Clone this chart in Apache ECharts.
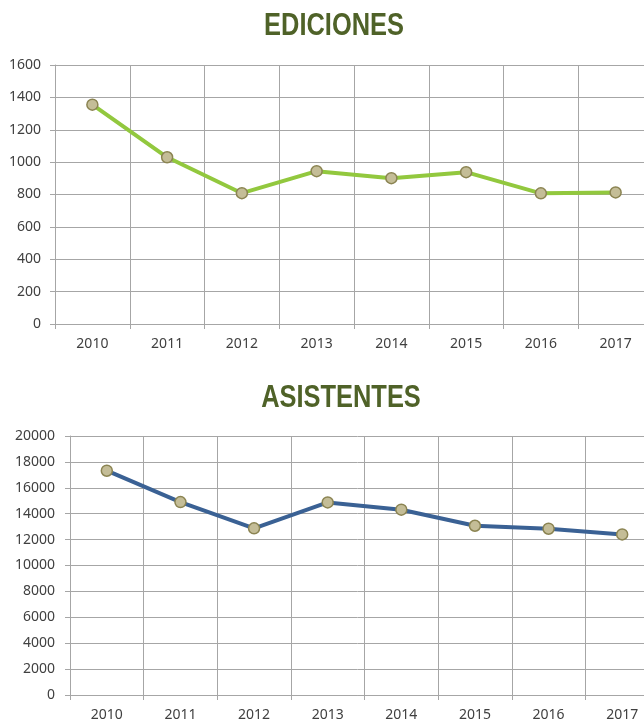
<!DOCTYPE html>
<html>
<head>
<meta charset="utf-8">
<script src="https://cdn.jsdelivr.net/npm/echarts@6/dist/echarts.min.js"></script>
<style>
  html, body { margin: 0; padding: 0; background: #fff; overflow: hidden; }
  #chart { width: 644px; height: 719px; }
</style>
</head>
<body>
<div id="chart"></div>
<script>
// datos
const years = ['2010', '2011', '2012', '2013', '2014', '2015', '2016', '2017'];
const ediciones = [1355, 1030, 808, 944, 901, 938, 807, 813];
const asistentes = [17320, 14900, 12870, 14870, 14310, 13070, 12840, 12400];

const gridColor = '#a6a6a6';
const labelFont = { color: '#404040', fontSize: 14, fontFamily: 'Noto Sans' };
const marker = { color: '#c4bd97', borderColor: '#8b8452', borderWidth: 1.5 };

function xAxisFor(gridIndex) {
  return {
    type: 'category',
    gridIndex: gridIndex,
    data: years,
    boundaryGap: true,
    axisLine: { lineStyle: { color: gridColor } },
    axisTick: { show: true, length: 5, lineStyle: { color: gridColor } },
    splitLine: { show: true, lineStyle: { color: gridColor } },
    axisLabel: Object.assign({ margin: 13 }, labelFont)
  };
}

function yAxisFor(gridIndex, max, step, margin) {
  return {
    type: 'value',
    gridIndex: gridIndex,
    min: 0,
    max: max,
    interval: step,
    axisLine: { show: true, lineStyle: { color: gridColor } },
    axisTick: { show: true, length: 5, lineStyle: { color: gridColor } },
    splitLine: { show: true, lineStyle: { color: gridColor } },
    axisLabel: Object.assign({ margin: margin, formatter: v => String(v) }, labelFont)
  };
}

// títulos en negrita estrecha (Arial Narrow no está, se comprime Liberation Sans)
function titleText(text, cx, cy) {
  return {
    type: 'text',
    x: cx,
    y: cy,
    scaleX: 0.82,
    style: {
      text: text,
      fill: '#4f6228',
      font: 'bold 31px "Liberation Sans", Arial, sans-serif',
      align: 'center',
      verticalAlign: 'middle'
    }
  };
}

const chart = echarts.init(document.getElementById('chart'), null, { renderer: 'canvas' });
chart.setOption({
  animation: false,
  graphic: [
    titleText('EDICIONES', 334, 26),
    titleText('ASISTENTES', 341, 398)
  ],
  grid: [
    { left: 55, top: 65, width: 598, height: 259, outerBoundsMode: 'none' },
    { left: 70, top: 436, width: 589, height: 259, outerBoundsMode: 'none' }
  ],
  xAxis: [xAxisFor(0), xAxisFor(1)],
  yAxis: [yAxisFor(0, 1600, 200, 14), yAxisFor(1, 20000, 2000, 15)],
  series: [
    {
      name: 'Ediciones',
      type: 'line',
      xAxisIndex: 0,
      yAxisIndex: 0,
      data: ediciones,
      symbol: 'circle',
      symbolSize: 11,
      lineStyle: { color: '#92c83e', width: 4 },
      itemStyle: marker
    },
    {
      name: 'Asistentes',
      type: 'line',
      xAxisIndex: 1,
      yAxisIndex: 1,
      data: asistentes,
      symbol: 'circle',
      symbolSize: 11,
      lineStyle: { color: '#3a6194', width: 4 },
      itemStyle: marker
    }
  ]
});
</script>
</body>
</html>
